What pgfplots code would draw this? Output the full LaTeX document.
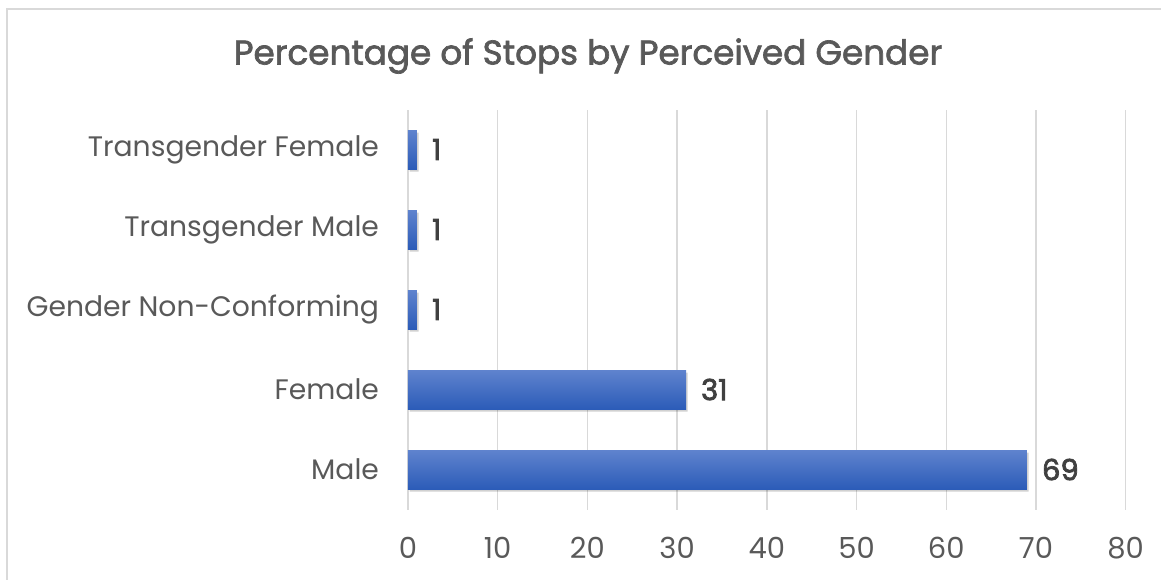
\documentclass[border=0pt]{standalone}
\usepackage{fontspec}
\setmainfont{Poppins}
\newfontfamily\medfont[FakeBold=2]{Poppins}
\newfontfamily\valfont[FakeBold=2.6]{Poppins}
\usepackage{pgfplots}
\pgfplotsset{compat=1.18}
\definecolor{txtgray}{HTML}{595959}
\definecolor{valgray}{HTML}{404040}
\definecolor{gridgray}{HTML}{D9D9D9}
\definecolor{bartop}{HTML}{5F83CE}
\definecolor{barmid}{HTML}{4472C4}
\definecolor{barbot}{HTML}{2C5CB8}

\begin{document}
\begin{tikzpicture}
\begin{axis}[
  name=main,
  scale only axis,
  width=358.85pt, height=200pt,
  xbar, bar width=19.5pt, bar shift=0pt,
  xmin=0, xmax=80, ymin=-0.5, ymax=4.5,
  xtick={0,10,...,80},
  ytick={0,1,2,3,4},
  yticklabels={Male,Female,Gender Non-Conforming,Transgender Male,Transgender Female},
  xmajorgrids, grid style={gridgray, line width=0.75pt},
  axis line style={draw=none},
  major tick length=0pt,
  tick label style={font=\fontsize{14.5}{16}\selectfont, text=txtgray},
  yticklabel style={font=\fontsize{14.1}{16}\selectfont, anchor=east, xshift=-11pt},
  /pgf/number format/assume math mode=true,
  xticklabel style={anchor=center, yshift=-19.25pt},
  point meta=x,
  barstyle/.style={draw=none, top color=bartop, middle color=barmid, bottom color=barbot,
    nodes near coords,
    nodes near coords style={font=\fontsize{14.5}{16}\selectfont\valfont, text=valgray, anchor=west, xshift=4pt}},
  shadowstyle/.style={draw=none, fill=black, fill opacity=0.18,
    transform canvas={xshift=0.8pt, yshift=-1.3pt}},
]
% soft shadows under the bars
\addplot[shadowstyle] coordinates {(69,0) (31,1) (1,2) (1,3) (1,4)};
% bars, one per plot so each gets its own gradient
\addplot[barstyle] coordinates {(69,0)};
\addplot[barstyle] coordinates {(31,1)};
\addplot[barstyle] coordinates {(1,2)};
\addplot[barstyle] coordinates {(1,3)};
\addplot[barstyle] coordinates {(1,4)};
\end{axis}
% frame and title
\path[use as bounding box] ([xshift=-204pt, yshift=-34.75pt]main.south west) rectangle ([xshift=376.5pt, yshift=254.75pt]main.south west);
\draw[gridgray, line width=0.75pt] ([xshift=-200.5pt, yshift=-40pt]main.south west) -- ([xshift=-200.5pt, yshift=250.25pt]main.south west) -- ([xshift=390pt, yshift=250.25pt]main.south west);
\node[font=\fontsize{17.1}{19}\selectfont\medfont, text=txtgray] at ([xshift=90pt, yshift=226.75pt]main.south west) {Percentage of Stops by Perceived Gender};
\end{tikzpicture}
\end{document}
